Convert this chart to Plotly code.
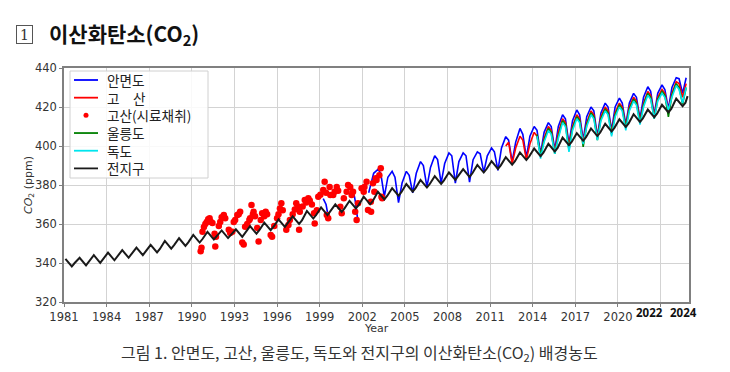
import plotly.graph_objects as go

# ---------------- data ----------------
# sampling phases within each year (fraction of year)
GLOBAL_PHASES = [0.1, 0.55, 0.75]          # peak, trough, recovery
STATION_PHASES = [0.1, 0.3, 0.55, 0.8]     # peak, late high, trough, recovery

global_years = list(range(1981, 2025))
global_ppm = [
    [342.1, 338.2, 340.0], [342.7, 338.8, 340.6], [344.0, 340.1, 341.9], [345.3, 341.4, 343.2],
    [346.6, 342.7, 344.5], [347.9, 344.0, 345.8], [349.3, 345.4, 347.2], [351.3, 347.4, 349.2],
    [352.7, 348.8, 350.6], [354.4, 350.5, 352.3], [356.0, 352.1, 353.9], [356.7, 352.8, 354.6],
    [357.3, 353.4, 355.2], [358.9, 355.0, 356.8], [360.7, 356.8, 358.6], [362.4, 358.5, 360.3],
    [363.9, 360.0, 361.8], [366.7, 362.8, 364.6], [368.5, 364.6, 366.4], [370.1, 366.2, 368.0],
    [371.9, 368.0, 369.8], [374.0, 370.1, 371.9], [376.5, 372.6, 374.4], [378.4, 374.5, 376.3],
    [380.5, 376.6, 378.4], [382.6, 378.7, 380.5], [384.5, 380.6, 382.4], [386.5, 382.6, 384.4],
    [388.1, 384.2, 386.0], [390.3, 386.4, 388.2], [392.2, 388.3, 390.1], [394.3, 390.4, 392.2],
    [396.7, 392.8, 394.6], [398.7, 394.8, 396.6], [401.1, 397.2, 399.0], [404.3, 400.4, 402.2],
    [406.6, 402.7, 404.5], [409.0, 405.1, 406.9], [411.4, 407.5, 409.3], [413.7, 409.8, 411.6],
    [416.3, 412.4, 414.2], [418.7, 414.8, 416.6], [421.1, 417.2, 419.0], [424.3, 420.4, 422.2],
]
global_tail_t = [2024.9]
global_tail_v = [425.6]

# Anmyeondo: early broken segments, then continuous record
anmyeon_early_t = [1999.25, 1999.45, 1999.65, None, 2001.35, 2001.5, 2001.7, None, 2002.45, 2002.8]
anmyeon_early_v = [373, 370, 362, None, 378, 372, 361, None, 376, 386]
anmyeon_years = list(range(2003, 2025))
anmyeon_ppm = [
    [388, 386, 374, 384], [387, 384, 371, 381], [387, 385, 376, 386], [392, 390, 379, 389],
    [395, 393, 381, 391], [396.5, 395, 381, 392], [396.5, 395, 381.5, 393], [397, 396, 386.5, 395],
    [399, 397, 387.5, 399], [404.8, 403, 392, 402], [409, 406, 394, 405], [410, 408, 396, 407],
    [412, 410, 398, 410], [416, 414, 401, 413], [418.5, 416, 403, 415], [420, 418, 405, 417],
    [422, 420, 408, 420], [424.6, 422, 411, 422], [427, 425, 414, 425], [430.4, 428, 416, 427],
    [431.3, 429, 419, 430], [435, 434.5, 427, 435],
]

gosan_years = list(range(2012, 2025))
gosan_ppm = [
    [400, 402, 391, 399], [405, 403, 393, 401], [407, 405, 395, 404], [410, 408, 397, 407],
    [414, 412, 400, 410], [416, 414, 402, 412], [418, 416, 404, 415], [420, 418, 407, 417],
    [422, 420, 410, 420], [425, 423, 413, 422], [428, 426, 415, 425], [429, 427, 418, 427],
    [433, 432, 425, 432],
]

ulleung_years = list(range(2014, 2025))
ulleung_ppm = [
    [None, 406, 395, 403], [409, 407, 396, 405], [413, 411, 398, 409], [415, 413, 399.5, 411],
    [417, 415, 403, 414], [419, 417, 406, 416], [421, 419, 409, 419], [424, 422, 412, 421],
    [427, 425, 414, 424], [428, 426, 415, 426], [432, 430, 421.5, 430],
]

dokdo_years = list(range(2014, 2025))
dokdo_ppm = [
    [None, 405, 393.5, 402], [408, 406, 396, 404], [412, 410, 397, 408], [414, 412, 401, 410],
    [416, 414, 403, 413], [418, 416, 405, 415], [420, 418, 408, 418], [423, 421, 411, 420],
    [426, 424, 414, 423], [427, 425, 418.5, 425], [431, 429, 422, 430],
]

# Gosan flask samples (dots)
flask_t = [
    1990.62, 1990.68, 1990.75, 1990.85, 1990.95, 1991.05, 1991.15, 1991.25, 1991.35, 1991.45,
    1991.6, 1991.65, 1991.7, 1991.9, 1992.0, 1992.1, 1992.25, 1992.35, 1992.6, 1992.7,
    1992.85, 1992.95, 1993.05, 1993.2, 1993.3, 1993.4, 1993.55, 1993.65, 1993.75, 1993.9,
    1994.05, 1994.1, 1994.2, 1994.3, 1994.35, 1994.45, 1994.6, 1994.7, 1994.85, 1994.95,
    1995.1, 1995.2, 1995.3, 1995.55, 1995.65, 1995.8, 1996.0, 1996.1, 1996.2, 1996.3,
    1996.4, 1996.65, 1996.8, 1996.9, 1997.1, 1997.25, 1997.35, 1997.45, 1997.55, 1997.6,
    1997.8, 1997.95, 1998.05, 1998.2, 1998.3, 1998.45, 1998.6, 1998.65, 1998.8, 1998.9,
    1999.05, 1999.25, 1999.35, 1999.45, 1999.5, 1999.6, 1999.7, 1999.75, 1999.95, 2000.05,
    2000.2, 2000.3, 2000.45, 2000.55, 2000.7, 2000.9, 2001.0, 2001.15, 2001.25, 2001.35,
    2001.5, 2001.6, 2001.7, 2001.95, 2002.1, 2002.15, 2002.3, 2002.4, 2002.6, 2002.62,
    2002.75, 2002.85, 2002.95, 2003.0, 2003.2, 2003.3, 2003.35, 2003.4,
]
flask_v = [
    346.0, 347.8, 356.0, 358.5, 360.0, 361.0, 362.5, 363.0, 361.0, 360.5,
    355.0, 348.4, 353.5, 359.0, 361.0, 363.5, 364.6, 363.0, 357.0, 355.4,
    356.0, 361.0, 362.0, 364.6, 365.0, 366.3, 350.5, 349.5, 358.6, 360.0,
    362.0, 363.0, 369.7, 365.0, 366.3, 364.0, 358.0, 351.0, 362.0, 365.5,
    364.0, 366.3, 365.0, 354.4, 353.5, 359.0, 363.0, 365.0, 368.0, 370.6,
    367.0, 357.0, 359.5, 362.0, 365.0, 367.5, 370.6, 369.0, 357.0, 366.3,
    369.0, 372.3, 371.0, 373.2, 372.0, 370.0, 365.5, 360.3, 367.0, 374.0,
    375.0, 377.4, 381.7, 376.0, 364.6, 363.0, 379.0, 374.9, 374.9, 376.6,
    379.0, 377.0, 368.9, 365.5, 373.2, 376.6, 380.0, 379.0, 374.9, 376.6,
    366.3, 362.0, 370.6, 378.3, 376.6, 379.0, 381.7, 367.2, 371.4, 366.3,
    380.9, 376.6, 383.4, 382.6, 385.0, 388.6, 374.0, 373.2,
]

x_tick_vals = [1981, 1984, 1987, 1990, 1993, 1996, 1999, 2002, 2005, 2008, 2011, 2014, 2017, 2020, 2023]
x_tick_text = ["1981", "1984", "1987", "1990", "1993", "1996", "1999", "2002", "2005", "2008",
               "2011", "2014", "2017", "2020", ""]
x_bold_labels = ["2022", "2024"]
x_bold_pos = [2022.2, 2024.6]
y_tick_vals = [320, 340, 360, 380, 400, 420, 440]

series_names = ["안면도", "고\u2003산", "고산(시료채취)", "울릉도", "독도", "전지구"]
series_colors = ["#0000ff", "#ff0000", "#ff0000", "#008000", "#00e5ee", "#1a1a1a"]
series_kind = ["line", "line", "dot", "line", "line", "line"]


def seasonal(years, rows, phases):
    xs, ys = [], []
    for yr, row in zip(years, rows):
        for ph, v in zip(phases, row):
            if v is None:
                continue
            xs.append(yr + ph)
            ys.append(v)
    return xs, ys


gx, gy = seasonal(global_years, global_ppm, GLOBAL_PHASES)
gx += global_tail_t
gy += global_tail_v
ax_, ay_ = seasonal(anmyeon_years, anmyeon_ppm, STATION_PHASES)
ax_ = anmyeon_early_t + ax_
ay_ = anmyeon_early_v + ay_
kx, ky = seasonal(gosan_years, gosan_ppm, STATION_PHASES)
ux, uy = seasonal(ulleung_years, ulleung_ppm, STATION_PHASES)
dx, dy = seasonal(dokdo_years, dokdo_ppm, STATION_PHASES)

KR = "Noto Sans CJK KR"
fig = go.Figure()
fig.add_trace(go.Scatter(x=ax_, y=ay_, mode="lines", name=series_names[0],
                         line=dict(color=series_colors[0], width=1.6), connectgaps=False))
fig.add_trace(go.Scatter(x=kx, y=ky, mode="lines", name=series_names[1],
                         line=dict(color=series_colors[1], width=1.6)))
fig.add_trace(go.Scatter(x=flask_t, y=flask_v, mode="markers", name=series_names[2],
                         marker=dict(color=series_colors[2], size=6.5)))
fig.add_trace(go.Scatter(x=ux, y=uy, mode="lines", name=series_names[3],
                         line=dict(color=series_colors[3], width=1.6)))
fig.add_trace(go.Scatter(x=dx, y=dy, mode="lines", name=series_names[4],
                         line=dict(color=series_colors[4], width=1.6)))
fig.add_trace(go.Scatter(x=gx, y=gy, mode="lines", name=series_names[5],
                         line=dict(color=series_colors[5], width=2)))

axis_common = dict(showline=True, mirror=True, linecolor="#808080", linewidth=1.5,
                   showgrid=True, gridcolor="#d3d3d3", gridwidth=1, zeroline=False,
                   ticks="outside", ticklen=3, tickcolor="#808080",
                   tickfont=dict(family="DejaVu Sans", size=11.5, color="#333333"))

# plot area in page pixels: left 64, right 689, top 68, bottom 302
PL, PR, PT, PB = 64, 689, 68, 302


def px_x(p):
    return (p - PL) / (PR - PL)


def px_y(p):
    return (PB - p) / (PB - PT)


# the page body has an 8px default margin, so the figure is 8px smaller
fig.update_layout(
    width=722, height=364,
    margin=dict(l=56, r=41, t=60, b=70),
    paper_bgcolor="white", plot_bgcolor="white",
    showlegend=False,
    xaxis=dict(range=[1981, 2025], tickvals=x_tick_vals, ticktext=x_tick_text, **axis_common),
    yaxis=dict(range=[320, 440], tickvals=y_tick_vals, **axis_common),
)

# compact legend (matplotlib-style spacing); labels in one multi-line text block
LEG_FONT = 13.6
row_y0 = 80
row_dy = LEG_FONT * 1.3
shapes = [dict(type="rect", xref="paper", yref="paper",
               x0=px_x(70), x1=px_x(208), y0=px_y(71), y1=px_y(178),
               line=dict(color="#d0d0d0", width=1), fillcolor="rgba(255,255,255,0.85)",
               layer="above")]
for i, (col, kind) in enumerate(zip(series_colors, series_kind)):
    yy = px_y(row_y0 + i * row_dy)
    if kind == "line":
        shapes.append(dict(type="line", xref="paper", yref="paper", x0=px_x(74), x1=px_x(98),
                           y0=yy, y1=yy, line=dict(color=col, width=1.8), layer="above"))
    else:
        shapes.append(dict(type="circle", xref="paper", yref="paper",
                           x0=px_x(83.5), x1=px_x(88.5), y0=yy - 2.5 / 234, y1=yy + 2.5 / 234,
                           line=dict(color=col, width=0), fillcolor=col, layer="above"))
block_center = row_y0 + (len(series_names) - 1) * row_dy / 2
annotations = [dict(text="<br>".join(series_names), x=px_x(106), y=px_y(block_center),
                    xref="paper", yref="paper", xanchor="left", yanchor="middle",
                    align="left", showarrow=False, borderpad=0,
                    font=dict(family=KR, size=LEG_FONT, color="#222222"))]

annotations += [
    dict(text="Year", x=0.5, y=0, xref="paper", yref="paper", yanchor="middle",
         yshift=-26, showarrow=False, font=dict(family="DejaVu Sans", size=11, color="#333333")),
    dict(text="<i>CO</i><sub>2</sub> (ppm)", x=0, y=0.5, xref="paper", yref="paper",
         xanchor="center", yanchor="middle", xshift=-35, textangle=-90, showarrow=False,
         font=dict(family="DejaVu Sans", size=11, color="#333333")),
    dict(text="1", x=px_x(24.5), y=px_y(34), xref="paper", yref="paper",
         xanchor="center", yanchor="middle", showarrow=False, width=13, height=15,
         bordercolor="#555555", borderwidth=1, borderpad=1,
         font=dict(family="DejaVu Serif", size=14, color="#333333")),
    dict(text="<b>이산화탄소(CO<sub>2</sub>)</b>", x=px_x(47), y=px_y(34),
         xref="paper", yref="paper", xanchor="left", yanchor="middle", showarrow=False,
         font=dict(family=KR, size=21, color="#111111")),
    dict(text="그림 1. 안면도, 고산, 울릉도, 독도와 전지구의 이산화탄소(CO<sub>2</sub>) 배경농도",
         x=px_x(359), y=px_y(352), xref="paper", yref="paper",
         xanchor="center", yanchor="middle", showarrow=False,
         font=dict(family=KR, size=16, color="#333333")),
]
for lab, pos in zip(x_bold_labels, x_bold_pos):
    annotations.append(dict(text="<b>" + lab + "</b>", x=pos, y=0, xref="x", yref="paper",
                            yanchor="middle", yshift=-10, showarrow=False,
                            font=dict(family="Noto Sans", size=11.5, color="#111111")))
fig.update_layout(annotations=annotations, shapes=shapes)

fig.write_html("out.html")
